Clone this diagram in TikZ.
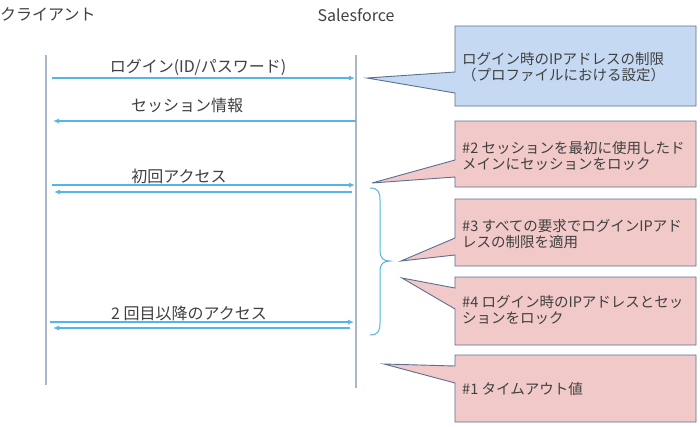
\documentclass[tikz,border=0pt]{standalone}
\usepackage{fontspec}
\setmainfont{Noto Sans CJK JP}
\usetikzlibrary{arrows.meta}
\definecolor{lifec}{HTML}{A9B7CB}
\definecolor{arrc}{HTML}{55B5E6}
\definecolor{bluefill}{HTML}{C6D9F2}
\definecolor{pinkfill}{HTML}{F2C9C9}
\definecolor{boxline}{HTML}{5B6F93}
\definecolor{txt}{HTML}{404040}
\begin{document}
\begin{tikzpicture}[x=1pt,y=-1pt,
  lifeline/.style={draw=lifec,line width=2pt},
  msg/.style={draw=arrc,line width=1.4pt,-{Latex[length=6pt,width=5pt]}},
  msglabel/.style={font=\fontsize{16}{18}\selectfont,text=txt,inner sep=0pt},
  callout/.style={draw=boxline,line width=0.9pt,line join=miter},
  boxtext/.style={font=\fontsize{14.5}{16.5}\selectfont,text=txt,align=left,anchor=west,inner sep=0pt},
  header/.style={font=\fontsize{16}{18}\selectfont,text=txt,inner sep=0pt},
  bracestyle/.style={draw=arrc,line width=1pt}]

\useasboundingbox (0,0) rectangle (700,426);
\fill[white] (0,0) rectangle (700,426);

% headers
\node[header,anchor=west] (client) at (0,14) {クライアント};
\node[header] (sf) at (356,15) {Salesforce};

% lifelines
\coordinate (cT) at (46,55);
\coordinate (cB) at (46,385);
\coordinate (sT) at (356,55);
\coordinate (sB) at (356,388);
\draw[lifeline] (cT) -- (cB);
\draw[lifeline] (sT) -- (sB);

% messages
\coordinate (m1a) at (52,78);  \coordinate (m1b) at (355,78);
\coordinate (m2a) at (356,121); \coordinate (m2b) at (53,121);
\coordinate (m3a) at (52,185); \coordinate (m3b) at (355,185);
\coordinate (m4a) at (352,192); \coordinate (m4b) at (54,192);
\coordinate (m5a) at (50,322); \coordinate (m5b) at (354,322);
\coordinate (m6a) at (350,328); \coordinate (m6b) at (53,328);
\draw[msg] (m1a) -- (m1b);
\draw[msg] (m2a) -- (m2b);
\draw[msg] (m3a) -- (m3b);
\draw[msg] (m4a) -- (m4b);
\draw[msg] (m5a) -- (m5b);
\draw[msg] (m6a) -- (m6b);

\node[msglabel] (l1) at (198,67) {ログイン(ID/パスワード)};
\node[msglabel] (l2) at (187,105) {セッション情報};
\node[msglabel] (l3) at (179,176) {初回アクセス};
\node[msglabel] (l4) at (189,313) {2 回目以降のアクセス};

% brace
\draw[bracestyle] (370,188) .. controls (378,188) and (380,192) .. (380,200)
  -- (380,250) .. controls (380,258) and (383,261) .. (390,261)
  .. controls (383,261) and (380,264) .. (380,272)
  -- (380,323) .. controls (380,331) and (378,335) .. (370,335);

% callout 1 (blue)
\filldraw[callout,fill=bluefill] (367,78) -- (455,72) -- (455,26) -- (696,26) -- (696,106) -- (455,106) -- (455,93) -- cycle;
\node[boxtext] (t1) at (462,67) {ログイン時のIPアドレスの制限\\（プロファイルにおける設定）};

% callout 2
\filldraw[callout,fill=pinkfill] (372,183) -- (455,160) -- (455,121) -- (696,121) -- (696,187) -- (455,187) -- (455,177) -- cycle;
\node[boxtext] (t2) at (462,156) {\#2 セッションを最初に使用したド\\メインにセッションをロック};

% callout 3
\filldraw[callout,fill=pinkfill] (401,261) -- (455,238) -- (455,199) -- (696,199) -- (696,266) -- (455,266) -- (455,255) -- cycle;
\node[boxtext] (t3) at (462,234) {\#3 すべての要求でログインIPアド\\レスの制限を適用};

% callout 4
\filldraw[callout,fill=pinkfill] (402,278) -- (455,288) -- (455,277) -- (696,277) -- (696,345) -- (455,345) -- (455,309) -- cycle;
\node[boxtext] (t4) at (462,310) {\#4 ログイン時のIPアドレスとセッ\\ションをロック};

% callout 5
\filldraw[callout,fill=pinkfill] (384,364) -- (455,366) -- (455,355) -- (696,355) -- (696,422) -- (455,422) -- (455,383) -- cycle;
\node[boxtext] (t5) at (462,389) {\#1 タイムアウト値};

\end{tikzpicture}
\end{document}
